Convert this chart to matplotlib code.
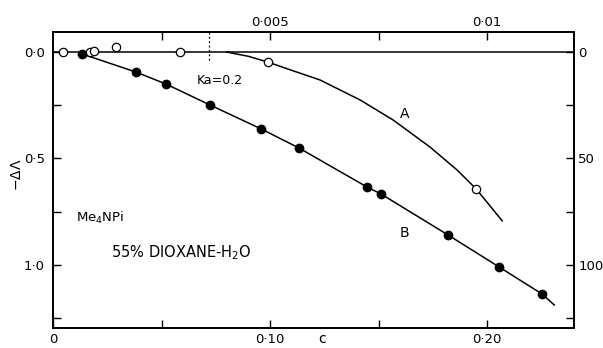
import matplotlib
matplotlib.use("Agg")
import matplotlib.pyplot as plt

# --- data ---
# curve B (filled circles)
b_c = [0.0134, 0.0382, 0.052, 0.0724, 0.0959, 0.1134, 0.1447, 0.1512, 0.182, 0.2055, 0.2253]
b_dl = [0.009, 0.094, 0.150, 0.249, 0.361, 0.451, 0.634, 0.667, 0.859, 1.009, 1.136]
b_line_c = [0.0134, 0.0382, 0.052, 0.0724, 0.0959, 0.1134, 0.1447, 0.1512, 0.182, 0.2055, 0.2253, 0.231]
b_line_dl = [0.009, 0.094, 0.150, 0.249, 0.361, 0.451, 0.634, 0.667, 0.859, 1.009, 1.136, 1.188]

# curve A (open circles)
a_c = [0.0046, 0.017, 0.019, 0.029, 0.0585, 0.099, 0.195]
a_dl = [0.0, 0.0, -0.005, -0.023, 0.0, 0.047, 0.643]
a_line_c = [0.080, 0.090, 0.099, 0.110, 0.123, 0.1415, 0.1567, 0.1737, 0.1862, 0.195, 0.207]
a_line_dl = [0.0, 0.020, 0.047, 0.086, 0.131, 0.225, 0.319, 0.446, 0.554, 0.643, 0.793]

bottom_ticks = [0, 0.10, 0.20]
bottom_labels = ["0", "0·10", "0·20"]
top_ticks = [0.005, 0.01]
top_labels = ["0·005", "0·01"]
left_ticks = [0.0, 0.5, 1.0]
left_labels = ["0·0", "0·5", "1·0"]
right_ticks = [0, 50, 100]
right_labels = ["0", "50", "100"]

plt.rcParams['font.family'] = ['DejaVu Sans']
fig = plt.figure(figsize=(6.03, 3.48), dpi=100)
ax = fig.add_axes([0.0879, 0.0575, 0.8641, 0.8505])

xmax = 0.2401
ax.set_xlim(0, xmax)
ax.set_ylim(1.296, -0.094)

# zero line
ax.plot([0, xmax], [0, 0], color='black', lw=1.1, zorder=2)
ax.plot(a_line_c, a_line_dl, color='black', lw=1.1, zorder=2)
ax.plot(b_line_c, b_line_dl, color='black', lw=1.1, zorder=2)
ax.plot(b_c, b_dl, 'o', color='black', ms=6, zorder=3)
ax.plot(a_c, a_dl, 'o', mfc='white', mec='black', mew=0.9, ms=6, zorder=3)

# Ka = 0.2 marker
ax.plot([0.0719, 0.0719], [-0.094, 0.047], color='black', lw=0.9, ls=(0, (1.5, 2)), zorder=2)
ax.text(0.0769, 0.135, "Ka=0.2", fontsize=9, ha='center', va='center')

ax.text(0.0105, 0.78, "Me$_4$NPi", fontsize=9.5, ha='left', va='center')
ax.text(0.0265, 0.94, "55% DIOXANE-H$_2$O", fontsize=10.5, ha='left', va='center')
ax.text(0.162, 0.29, "A", fontsize=10, ha='center', va='center')
ax.text(0.162, 0.85, "B", fontsize=10, ha='center', va='center')

ax.set_xticks(bottom_ticks)
ax.set_xticklabels(bottom_labels, fontsize=9.5)
ax.set_xticks([0.05, 0.15], minor=True)
ax.set_yticks(left_ticks)
ax.set_yticklabels(left_labels, fontsize=9.5)
ax.set_yticks([0.25, 0.75, 1.25], minor=True)
ax.tick_params(which='both', direction='in', length=6, width=1)
ax.tick_params(axis='y', pad=6)
fig.text(17 / 603, 1 - 175 / 348, "$-\\Delta\\Lambda$", fontsize=10, rotation=90,
         ha='center', va='center')
fig.text(322 / 603, 1 - 339 / 348, "c", fontsize=10, ha='center', va='center')

axt = ax.twiny()
axt.set_xlim(0, xmax / 20)
axt.set_xticks(top_ticks)
axt.set_xticklabels(top_labels, fontsize=9.5)
axt.set_xticks([0.0025, 0.0075], minor=True)
axt.tick_params(which='both', direction='in', length=6, width=1, pad=2)

axr = ax.twinx()
axr.set_ylim(129.6, -9.4)
axr.set_yticks(right_ticks)
axr.set_yticklabels(right_labels, fontsize=9.5)
axr.set_yticks([25, 75, 125], minor=True)
axr.tick_params(which='both', direction='in', length=6, width=1, pad=3)

for a in (ax, axt, axr):
    for s in a.spines.values():
        s.set_linewidth(1.1)

fig.savefig("out.png", dpi=100)
